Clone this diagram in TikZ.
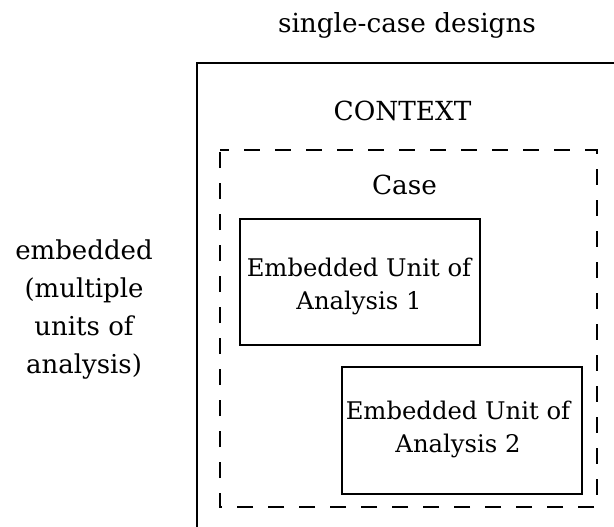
\documentclass[tikz,border=0pt]{standalone}
\usepackage{fontspec}
\setmainfont{DejaVu Serif}
\begin{document}
\begin{tikzpicture}[x=1pt,y=-1pt,
  solidbox/.style={draw=black, line width=2pt, inner sep=0pt},
  dashbox/.style={draw=black, line width=2pt, dash pattern=on 16pt off 15pt, dash phase=7pt},
  bigtxt/.style={font=\fontsize{26.3}{33}\selectfont, inner sep=0pt},
  boxtxt/.style={font=\fontsize{24.3}{33}\selectfont, align=center, inner sep=0pt},
  sidetxt/.style={font=\fontsize{26}{38}\selectfont, align=center, inner sep=0pt}]
\useasboundingbox (0,0) rectangle (614,527);
\clip (0,0) rectangle (614,527);
% outer context box (runs off the page to the right and bottom)
\node[solidbox, anchor=north west, minimum width=480pt, minimum height=520pt] (context) at (196,62) {};
% dashed case boundary
\coordinate (ctl) at (220,150);
\coordinate (ctr) at (597,150);
\coordinate (cbr) at (597,507);
\coordinate (cbl) at (220,507);
\draw[dashbox] (ctl) -- (ctr) -- (cbr) -- (cbl) -- cycle;
% embedded units
\node[solidbox, anchor=north west, minimum width=240pt, minimum height=126pt] (unit1) at (239,218) {};
\node[solidbox, anchor=north west, minimum width=240pt, minimum height=127pt] (unit2) at (341,366) {};
\node[boxtxt] (unit1txt) at ([shift={(-1,4)}]unit1.center) {Embedded Unit of\\Analysis 1};
\node[boxtxt] (unit2txt) at ([shift={(-4,-1)}]unit2.center) {Embedded Unit of\\Analysis 2};
% labels
\node[bigtxt, anchor=base] (title) at (407,33) {single-case designs};
\node[bigtxt, anchor=base] (ctxlabel) at (402.5,121) {CONTEXT};
\node[bigtxt, anchor=base] (caselabel) at (404.5,194) {Case};
\node[sidetxt] (side) at (84,310) {embedded\\(multiple\\units of\\analysis)};
\end{tikzpicture}
\end{document}
